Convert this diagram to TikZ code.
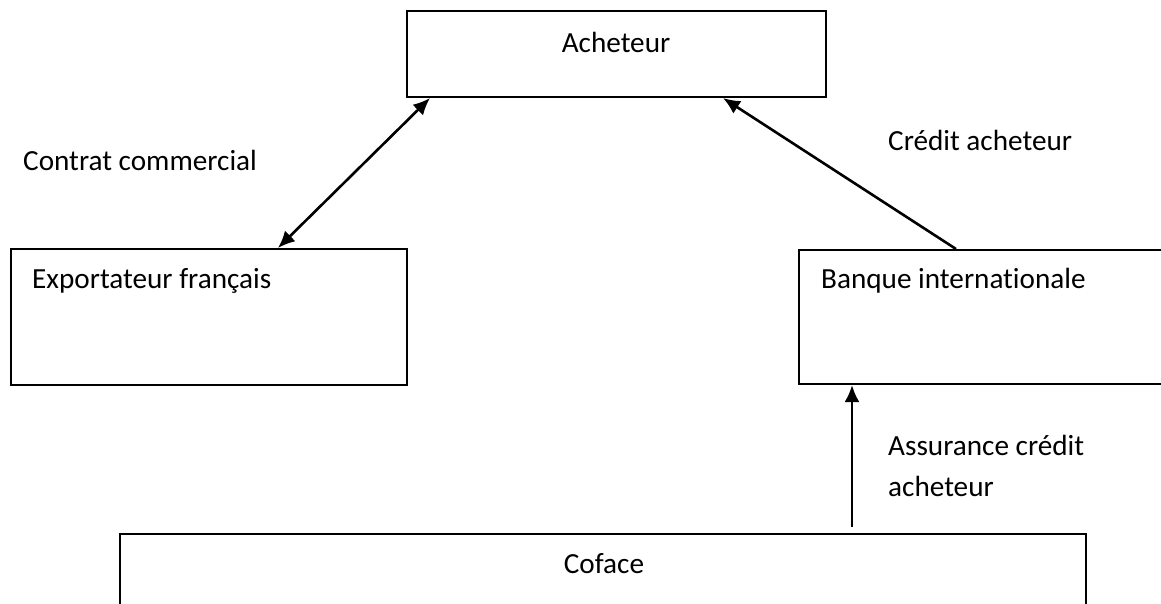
\documentclass[tikz,border=0pt]{standalone}
\usepackage{fontspec}
\setmainfont[Ligatures=NoCommon]{Carlito}
\usetikzlibrary{arrows.meta,positioning}
\tikzset{box/.style={draw, rectangle, line width=2pt, inner sep=0pt}}
\tikzset{arr/.style={draw, line width=2.6pt, -{Latex[length=17pt,width=15pt]}}}
\tikzset{txt/.style={inner sep=0pt, font=\fontsize{29.2}{41}\selectfont}}

\begin{document}
\begin{tikzpicture}[x=1pt, y=-1pt]
    \useasboundingbox (0,0) rectangle (1161,603);
    \clip (0,0) rectangle (1161,603);

    \node[box, minimum width=419, minimum height=86] (A) at (616.5,54) {};
    \node[box, minimum width=396, minimum height=136] (EF) at (209,317) {};
    \node[box, minimum width=381, minimum height=134] (BI) at (989.5,317) {};
    \node[box, minimum width=966, minimum height=106] (C) at (603,587) {};

    \node[txt, anchor=base] (tA) at (616,52) {Acheteur};
    \node[txt, anchor=base west] (tEF) at (32,288) {Exportateur français};
    \node[txt, anchor=base west] (tBI) at (821,288) {Banque internationale};
    \node[txt, anchor=base] (tC) at (604,573) {Coface};

    \node[txt, anchor=base west] (contrat) at (23,170) {Contrat commercial};
    \node[txt, anchor=base west] (credit) at (888,150) {Crédit acheteur};
    \node[txt, anchor=base west, align=left] (assur) at (888,496) {Assurance crédit\\acheteur};

    \draw[arr, {Latex[length=17pt,width=15pt]}-{Latex[length=17pt,width=15pt]}] (278,0 |- EF.north) -- (430,0 |- A.south);
    \draw[arr] (956,0 |- BI.north) -- (723,0 |- A.south);
    \draw[arr, shorten <=6pt] (852,0 |- C.north) -- (852,0 |- BI.south);
\end{tikzpicture}
\end{document}
